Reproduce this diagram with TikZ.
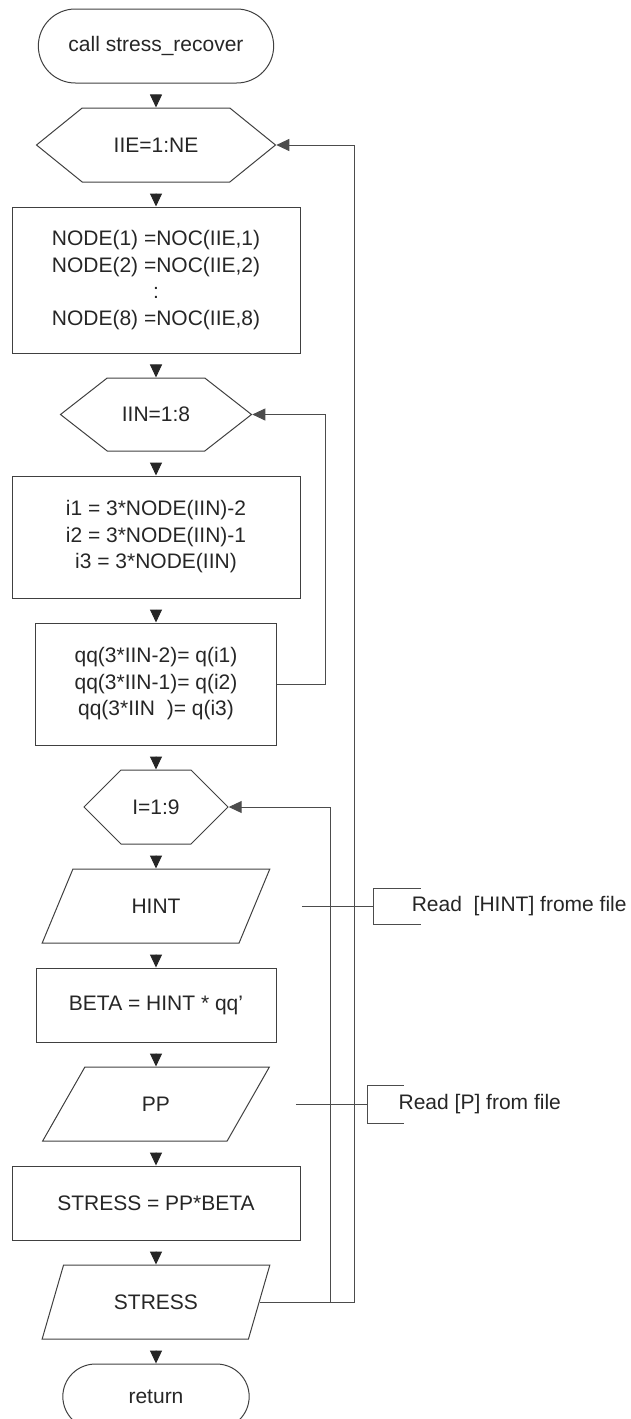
\documentclass[tikz,border=0pt]{standalone}
\usepackage{fontspec}
\setmainfont{Liberation Sans}
\usetikzlibrary{shapes.geometric,shapes.misc,shapes.symbols,positioning,arrows.meta,calc}

\begin{document}
\begin{tikzpicture}[
    x=1pt, y=-1pt,
    node distance=24pt,
    font=\fontsize{21}{26.5}\selectfont,
    line width=1pt,
    every node/.style={text=black!85},
    term/.style={rounded rectangle, draw=black!75, minimum width=242pt, minimum height=74pt},
    hexa/.style={signal, signal to=west and east, draw=black!75, minimum height=74pt},
    box/.style={rectangle, draw=black!75, minimum width=288pt, align=center},
    io/.style={trapezium, trapezium left angle=64, trapezium right angle=116, trapezium stretches=true, draw=black!75, minimum width=228pt, minimum height=74pt},
    arrow/.style={-{Triangle[width=12pt,length=13pt]}, draw=black!85, shorten <=11pt},
    back/.style={-{Triangle[width=12pt,length=13pt]}, draw=black!70},
    note/.style={draw=black!70}
]
\useasboundingbox (0,0) rectangle (630,1419);

\node[term] (start) at (156,46) {call stress\_recover};
\node[hexa, below=of start, minimum width=239pt, signal pointer angle=78] (iie) {IIE=1:NE};
\node[box, below=of iie, minimum height=146pt] (nodes) {NODE(1) =NOC(IIE,1)\\NODE(2) =NOC(IIE,2)\\:\\NODE(8) =NOC(IIE,8)};
\node[hexa, below=of nodes, minimum width=191pt, minimum height=73pt, signal pointer angle=76] (iin) {IIN=1:8};
\node[box, below=of iin, minimum height=122pt] (idx) {i1 = 3*NODE(IIN)-2\\i2 = 3*NODE(IIN)-1\\i3 = 3*NODE(IIN)};
\node[box, below=of idx, minimum width=241pt, minimum height=122pt] (qq) {qq(3*IIN-2)= q(i1)\\qq(3*IIN-1)= q(i2)\\qq(3*IIN\ \ )= q(i3)};
\node[hexa, below=of qq, minimum width=144pt, signal pointer angle=90] (ii) {I=1:9};
\node[io, below=of ii] (hint) {HINT};
\node[box, below=of hint, minimum width=240pt, minimum height=74pt] (beta) {BETA = HINT * qq'};
\node[io, below=of beta] (pp) {PP};
\node[box, below=of pp, minimum height=74pt] (stress) {STRESS = PP*BETA};
\node[io, below=of stress] (stressout) {STRESS};
\node[term, below=of stressout, minimum width=193pt, minimum height=65pt] (ret) {return};

% flow
\draw[arrow] (start) -- (iie);
\draw[arrow] (iie) -- (nodes);
\draw[arrow] (nodes) -- (iin);
\draw[arrow] (iin) -- (idx);
\draw[arrow] (idx) -- (qq);
\draw[arrow] (qq) -- (ii);
\draw[arrow] (ii) -- (hint);
\draw[arrow] (hint) -- (beta);
\draw[arrow] (beta) -- (pp);
\draw[arrow] (pp) -- (stress);
\draw[arrow] (stress) -- (stressout);
\draw[arrow] (stressout) -- (ret);

% loops
\draw[back] (qq.east) -- ++(48,0) |- (iin.east);
\draw[back] (stressout.east) -- ++(71,0) |- (ii.east);
\draw[back] (stressout.east) -- ++(95,0) |- (iie.east);

% file notes
\coordinate (hintfree) at ($(hint.east)+(47,0)$);
\coordinate (hintbr) at ($(hintfree)+(72,0)$);
\node[anchor=west] (hintnote) at ($(hintbr)+(34,0)$) {Read\ \ [HINT] frome file};
\draw[note] (hintfree) -- (hintbr);
\draw[note] ($(hintbr)+(47,-18)$) -- ++(-47,0) -- ++(0,36) -- ++(47,0);

\coordinate (ppfree) at ($(pp.east)+(47,0)$);
\coordinate (ppbr) at ($(ppfree)+(72,0)$);
\node[anchor=west] (ppnote) at ($(ppbr)+(27,0)$) {Read [P] from file};
\draw[note] (ppfree) -- (ppbr);
\draw[note] ($(ppbr)+(36,-19)$) -- ++(-36,0) -- ++(0,38) -- ++(36,0);

\end{tikzpicture}
\end{document}
